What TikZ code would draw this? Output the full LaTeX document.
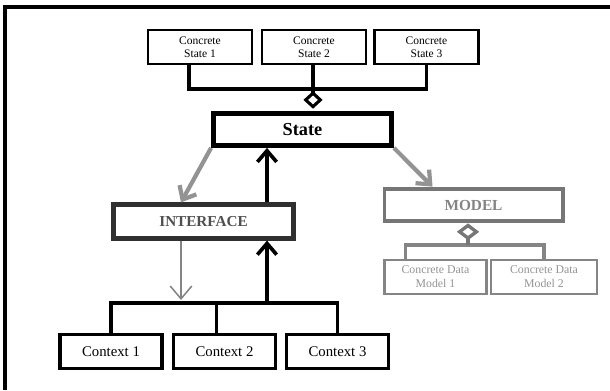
\documentclass[tikz,border=0pt]{standalone}
\usepackage{fontspec}
\setmainfont{Liberation Serif}
\usetikzlibrary{arrows.meta,calc,positioning}
\definecolor{ifgray}{HTML}{303030}
\definecolor{mdgray}{HTML}{767676}
\definecolor{cdgray}{HTML}{858585}
\definecolor{argray}{HTML}{939393}
\tikzset{
	csbox/.style={draw, line width=1.9pt, minimum width=2.6cm, minimum height=0.85cm, inner sep=1pt, align=center, font=\fontsize{8.2}{9.5}\selectfont},
	ctxbox/.style={draw, line width=2.2pt, minimum width=2.55cm, minimum height=0.87cm, inner sep=1pt, font=\fontsize{10.5}{12}\selectfont},
	statebox/.style={draw, line width=3.4pt, minimum width=4.45cm, minimum height=0.8cm, font=\fontsize{13}{15}\selectfont\bfseries},
	ifbox/.style={draw=ifgray, text=ifgray!85, line width=3pt, minimum width=4.5cm, minimum height=0.85cm, font=\fontsize{10.8}{13}\selectfont\bfseries},
	mdbox/.style={draw=mdgray, text=mdgray!90, line width=2.8pt, minimum width=4.45cm, minimum height=0.82cm, font=\fontsize{10.9}{13}\selectfont\bfseries},
	cdbox/.style={draw=cdgray, text=argray, line width=2pt, minimum height=0.85cm, inner sep=1pt, align=center, font=\fontsize{8.4}{10}\selectfont},
	bus/.style={line width=2.2pt},
	uparrow/.style={line width=2.6pt, -{Straight Barb[length=2.8mm,width=4.8mm]}},
	grayarrow/.style={argray, line width=3pt, -{Straight Barb[length=2.8mm,width=4.8mm]}},
	thinarrow/.style={argray!90!black, line width=1.1pt, -{Straight Barb[length=3.2mm,width=5.4mm]}},
}
\begin{document}
\begin{tikzpicture}[x=0.025cm, y=-0.025cm]
	\useasboundingbox (0,0) rectangle (610,390);
	% frame
	\draw[line width=2.2pt] (5,390) -- (5,7) -- (610,7);
	% boxes
	\foreach \i/\x in {1/200,2/314,3/426.5}{
		\node[csbox] (cs\i) at (\x,47) {Concrete\\State \i};
	}
	\node[statebox] (state) at (302.5,129.5) {State};
	\node[ifbox] (iface) at (203.5,221.5) {INTERFACE};
	\node[mdbox] (model) at (473.5,205) {MODEL};
	\node[cdbox, minimum width=2.55cm] (cdm1) at (435.5,277) {Concrete Data\\Model 1};
	\node[cdbox, minimum width=2.65cm] (cdm2) at (544,277) {Concrete Data\\Model 2};
	\foreach \i/\x in {1/111,2/224.5,3/337.5}{
		\node[ctxbox] (ctx\i) at (\x,351.5) {Context \i};
	}
	% concrete states to State
	\coordinate (sbus) at (313,89);
	\draw[bus] ($(cs1.south)+(-11,0)$) coordinate (s1) -- (s1 |- sbus) -- (cs3.south |- sbus) -- (cs3.south);
	\draw[bus] (cs2.south -| sbus) -- (sbus);
	\draw[bus, shorten >=0.06cm, -{Diamond[open, length=4.4mm, width=4.8mm]}] (sbus) -- (sbus |- state.north);
	% contexts to INTERFACE to State
	\coordinate (cbus) at (267,303);
	\draw[bus] (ctx1.north) -- (ctx1.north |- cbus) -- (ctx3.north |- cbus) -- (ctx3.north);
	\draw[bus] ($(ctx2.north)+(-8,0)$) coordinate (c2) -- (c2 |- cbus);
	\draw[uparrow] (cbus) -- (cbus |- iface.south);
	\draw[uparrow] (iface.north -| cbus) -- (cbus |- state.south);
	% gray arrows
	\coordinate (ifdown) at (181,300);
	\draw[thinarrow] (ifdown |- iface.south) -- (ifdown);
	\draw[grayarrow] (state.south west) -- (iface.north -| ifdown);
	\draw[grayarrow] (state.south east) -- ($(model.north west)+(50,0)$);
	% data models to MODEL
	\coordinate (mbus) at (468,245);
	\draw[bus, cdgray] ($(cdm1.north west)+(22,0)$) coordinate (m1) -- (m1 |- mbus) -- (cdm2.north |- mbus) -- (cdm2.north);
	\draw[bus, mdgray, line width=2.4pt, -{Diamond[open, length=4.2mm, width=5.6mm]}] (mbus) -- (mbus |- model.south);
\end{tikzpicture}
\end{document}
